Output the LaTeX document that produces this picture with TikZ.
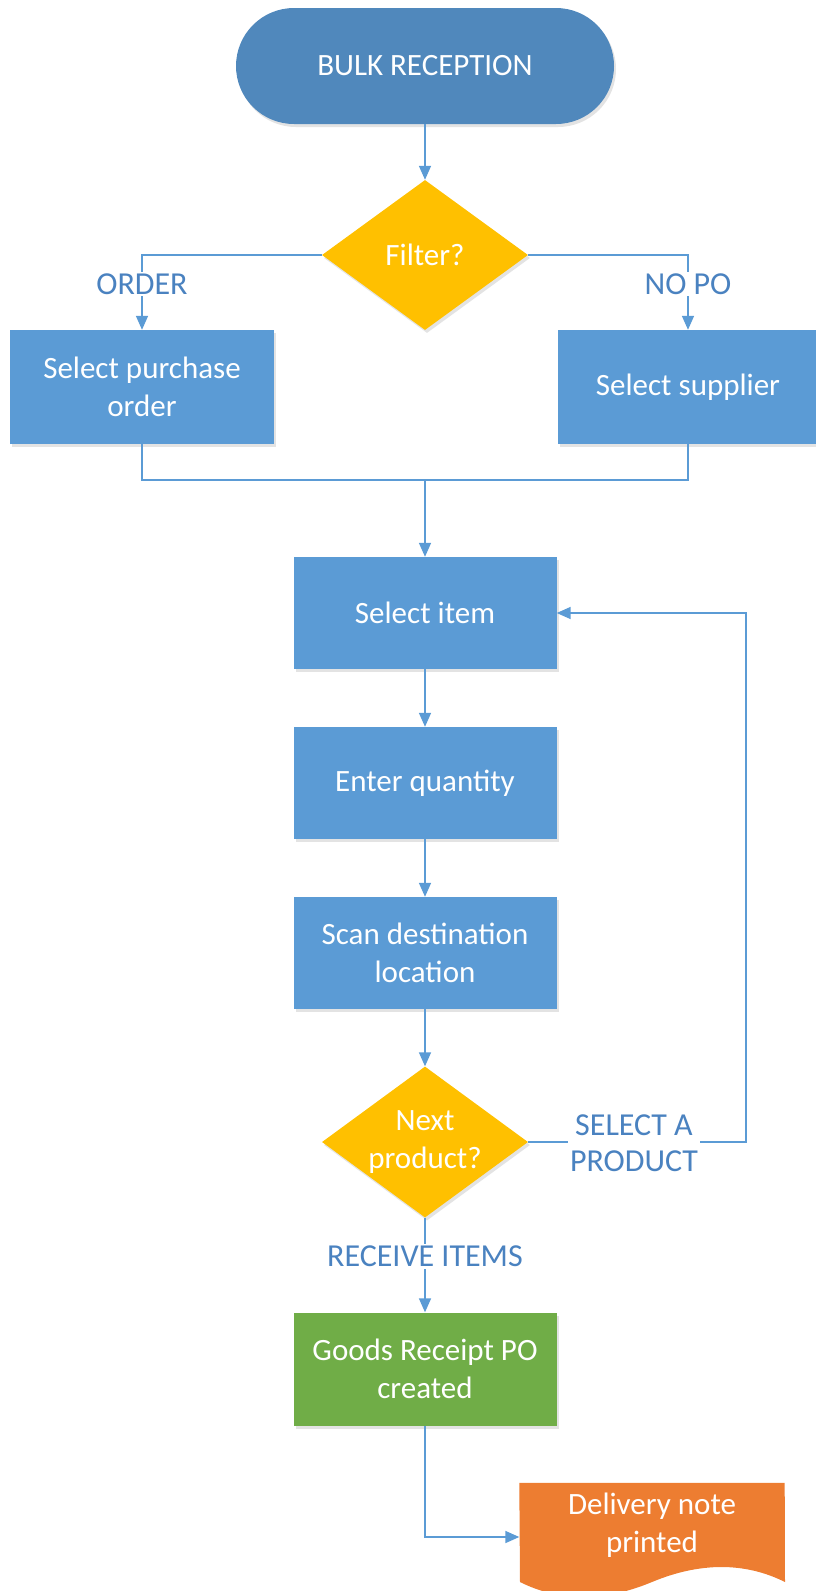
\documentclass[tikz,border=0pt]{standalone}
\usepackage{fontspec}
\setmainfont{Carlito}
\usetikzlibrary{shapes.geometric,arrows.meta,shadows}
\definecolor{termblue}{RGB}{80,136,188}
\definecolor{boxblue}{RGB}{91,155,213}
\definecolor{dyellow}{RGB}{255,192,0}
\definecolor{dgreen}{RGB}{112,173,71}
\definecolor{dorange}{RGB}{237,125,49}
\definecolor{lineblue}{RGB}{91,155,213}
\definecolor{lblblue}{RGB}{74,130,192}
\tikzset{
  shd/.style={drop shadow={shadow xshift=2pt,shadow yshift=-3pt,opacity=0.18,fill=black!60}},
  txt/.style={text=white,font=\fontsize{31}{38}\selectfont,align=center},
  procbox/.style={rectangle,fill=boxblue,shd,txt,minimum width=263pt,minimum height=112pt,inner sep=0pt},
  decbox/.style={diamond,fill=dyellow,shd,txt,aspect=1.37,minimum width=206pt,minimum height=150pt,inner sep=0pt},
  conn/.style={draw=lineblue,line width=1.6pt},
  arr/.style={conn,-{Triangle[width=12pt,length=14pt]}},
  lbl/.style={fill=white,text=lblblue,font=\fontsize{32}{36}\selectfont,align=center,inner sep=2pt}
}
\begin{document}
\begin{tikzpicture}[x=1pt,y=-1pt]
\useasboundingbox (0,0) rectangle (816,1591);
\node[rectangle,rounded corners=58pt,fill=termblue,shd,txt,minimum width=378pt,minimum height=116pt,inner sep=0pt] (start) at (425,66) {BULK RECEPTION};
\node[decbox] (filter) at (425,255) {Filter?};
\node[procbox,minimum width=264pt,minimum height=114pt] (po) at (142,387) {Select purchase\\order};
\node[procbox,minimum width=260pt,minimum height=114pt] (sup) at (688,387) {Select supplier};
\node[procbox] (item) at (425,613) {Select item};
\node[procbox] (qty) at (425,783) {Enter quantity};
\node[procbox] (scan) at (425,953) {Scan destination\\location};
\node[decbox,minimum height=151pt] (next) at (425,1142) {Next\\product?};
\node[procbox,fill=dgreen,minimum height=113pt] (gr) at (425,1369) {Goods Receipt PO\\created};
\node[rectangle,minimum width=265pt,minimum height=108pt,inner sep=0pt] (doc) at (652,1537) {};
\fill[dorange] (doc.north west) -- (doc.north east) -- (785,1582)
  .. controls (745,1562) and (700,1562) .. (652,1582)
  .. controls (604,1602) and (560,1602) .. (520,1582) -- cycle;
\node[txt] (doctext) at (652,1525) {Delivery note\\printed};
\coordinate (m) at (425,480);
\coordinate (loop) at (746,1142);
% connectors
\draw[arr] (start) -- (filter);
\draw[arr] (filter.west) -| (po.north);
\draw[arr] (filter.east) -| (sup.north);
\draw[conn] (po.south) |- (m) -| (sup.south);
\draw[arr] (m) -- (item.north);
\draw[arr] (item) -- (qty);
\draw[arr] (qty) -- (scan);
\draw[arr] (scan) -- (next);
\draw[arr] (next.east) -- (loop) |- (item.east);
\draw[arr] (next.south) -- (gr.north);
\draw[arr] (gr.south) |- (doc.west);
% labels
\node[lbl] (lorder) at (142,284) {ORDER};
\node[lbl] (lnopo) at (688,284) {NO PO};
\node[lbl] (lsel) at (634,1143) {SELECT A\\PRODUCT};
\node[lbl] (lrec) at (425,1256) {RECEIVE ITEMS};
\end{tikzpicture}
\end{document}
